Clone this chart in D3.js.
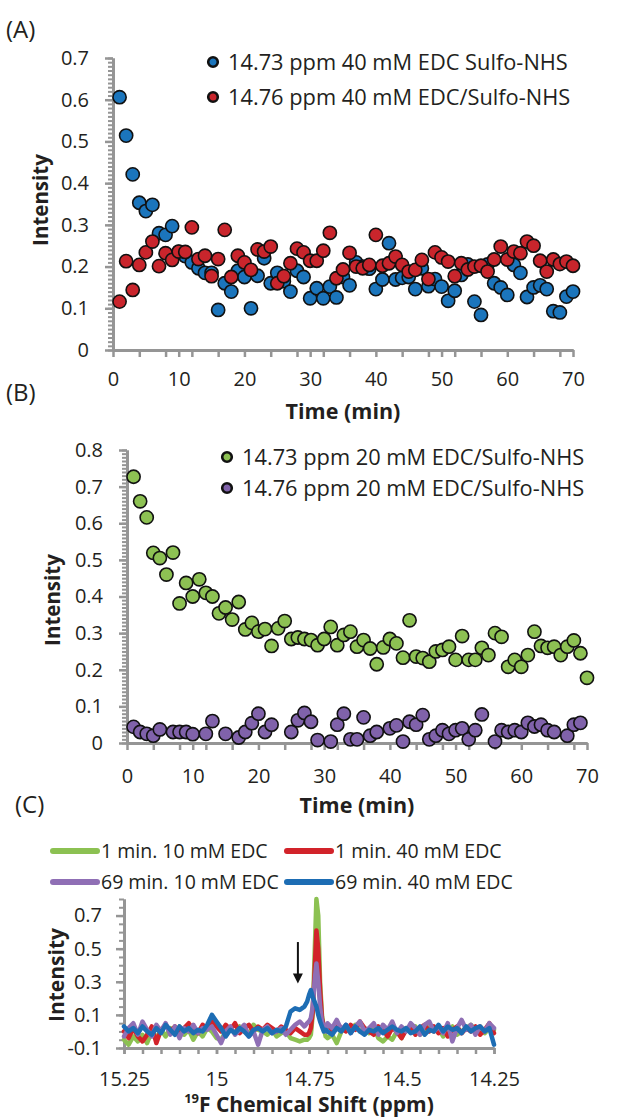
<!DOCTYPE html>
<html>
<head>
<meta charset="utf-8">
<script src="https://cdn.jsdelivr.net/npm/d3@7"></script>
<style>
body { margin: 0; background: #fff; }
text { font-family: "Open Sans", sans-serif; fill: #231f20; }
.bold { font-weight: bold; }
</style>
</head>
<body>
<svg id="chart" width="619" height="1118"></svg>
<script>
// ---- panel A data (40 mM EDC/Sulfo-NHS) ----
const timeA = [1,2,3,4,5,6,7,8,9,10,11,12,13,14,15,16,17,18,19,20,21,22,23,24,25,26,27,28,29,30,31,32,33,34,35,36,37,38,39,40,41,42,43,44,45,46,47,48,49,50,51,52,53,54,55,56,57,58,59,60,61,62,63,64,65,66,67,68,69,70];
const blueA = [0.606,0.514,0.421,0.353,0.333,0.348,0.28,0.276,0.297,0.235,0.225,0.21,0.196,0.185,0.185,0.096,0.16,0.14,0.19,0.175,
  0.1,0.178,0.22,0.16,0.185,0.165,0.14,0.19,0.175,0.124,0.148,0.124,0.152,0.126,0.175,0.155,0.21,0.2,0.195,0.146,
  0.169,0.256,0.169,0.173,0.175,0.146,0.196,0.153,0.17,0.152,0.118,0.142,0.18,0.205,0.116,0.084,0.205,0.16,0.15,0.132,
  0.204,0.185,0.127,0.15,0.155,0.146,0.093,0.09,0.128,0.14];
const redA = [0.116,0.213,0.144,0.204,0.234,0.26,0.201,0.232,0.216,0.236,0.235,0.294,0.218,0.226,0.177,0.218,0.288,0.175,0.226,0.21,
  0.192,0.241,0.236,0.248,0.16,0.177,0.208,0.243,0.234,0.214,0.214,0.238,0.281,0.172,0.193,0.233,0.2,0.196,0.204,0.276,
  0.202,0.208,0.224,0.204,0.188,0.192,0.216,0.17,0.234,0.222,0.212,0.177,0.208,0.193,0.2,0.202,0.188,0.217,0.248,0.217,
  0.236,0.232,0.26,0.25,0.214,0.188,0.217,0.206,0.212,0.202];

// ---- panel B data (20 mM EDC/Sulfo-NHS) ----
const timeB = timeA;
const greenB = [0.727,0.66,0.616,0.519,0.505,0.46,0.52,0.381,0.437,0.40,0.447,0.41,0.40,0.354,0.37,0.337,0.385,0.31,0.328,0.304,
  0.311,0.265,0.313,0.333,0.284,0.288,0.284,0.281,0.267,0.284,0.317,0.267,0.295,0.304,0.263,0.281,0.258,0.215,0.261,0.284,
  0.272,0.233,0.335,0.236,0.232,0.222,0.25,0.254,0.263,0.227,0.292,0.227,0.227,0.26,0.24,0.30,0.29,0.208,0.227,0.208,
  0.24,0.304,0.265,0.26,0.263,0.24,0.263,0.28,0.245,0.178];
const timePurpleB = [1,2,3,4,5,7,8,9,10,12,13,15,17,18,19,20,21,22,25,26,27,28,29,31,32,33,34,35,36,37,38,40,41,42,43,44,45,46,47,48,49,50,51,52,53,54,56,57,58,59,60,61,62,63,64,65,67,68,69];
const purpleB = [0.044,0.03,0.025,0.02,0.037,0.03,0.03,0.03,0.024,0.025,0.06,0.025,0.015,0.03,0.054,0.08,0.03,0.05,0.03,0.062,
  0.082,0.058,0.008,0.004,0.05,0.08,0.01,0.01,0.07,0.02,0.03,0.04,0.048,0.004,0.058,0.05,0.076,0.01,0.02,0.035,
  0.025,0.035,0.04,0.01,0.035,0.078,0.004,0.035,0.03,0.035,0.03,0.055,0.045,0.05,0.035,0.03,0.02,0.05,0.055];

// ---- panel C data (19F spectra) ----
const ppm = [15.25,15.2375,15.225,15.2125,15.2,15.1875,15.175,15.1625,15.15,15.1375,15.125,15.1125,15.1,15.0875,15.075,15.0625,15.05,15.0375,15.025,15.0125,
  15.0,14.9875,14.975,14.9625,14.95,14.9375,14.925,14.9125,14.9,14.8875,14.875,14.8625,14.85,14.8375,14.825,14.8125,14.8,14.7875,14.775,14.7625,
  14.755,14.75,14.745,14.74,14.735,14.73,14.725,14.72,14.715,14.71,14.705,
  14.7,14.6875,14.675,14.6625,14.65,14.6375,14.625,14.6125,14.6,14.5875,14.575,14.5625,14.55,14.5375,14.525,14.5125,14.5,14.4875,14.475,
  14.4625,14.45,14.4375,14.425,14.4125,14.4,14.3875,14.375,14.3625,14.35,14.3375,14.325,14.3125,14.3,14.2875,14.275,14.2625,14.25];
const green1min10 = [-0.05,-0.08,-0.03,-0.06,-0.02,-0.07,0.0,-0.04,0.01,-0.03,0.02,-0.01,0.03,-0.02,0.01,-0.05,0.0,-0.03,0.02,0.0,
  -0.04,-0.05,0.0,0.02,-0.01,0.03,0.0,-0.02,0.04,0.01,0.0,-0.02,0.01,-0.03,-0.01,0.0,-0.04,-0.05,-0.06,-0.05,
  -0.05,-0.04,-0.02,0.1,0.45,0.8,0.7,0.3,0.1,0.02,-0.03,
  -0.04,-0.02,-0.07,0.0,0.03,0.01,0.04,0.0,0.02,-0.01,0.03,-0.04,-0.06,-0.03,-0.05,0.0,-0.04,0.02,0.0,
  0.03,-0.02,0.01,0.04,0.0,0.02,-0.03,0.01,0.03,-0.02,0.0,0.02,0.04,0.01,0.03,-0.01,0.02,0.01];
const red1min40 = [0.0,-0.04,0.02,-0.03,-0.06,-0.02,0.03,-0.07,0.01,0.04,0.0,0.03,-0.02,0.02,0.05,0.01,-0.01,0.04,0.02,0.06,
  0.03,0.0,0.04,0.01,0.05,-0.01,0.02,0.04,0.0,0.03,0.01,0.04,0.02,0.0,0.03,0.01,-0.01,0.02,0.0,-0.02,
  -0.02,-0.01,0.02,0.12,0.35,0.61,0.5,0.25,0.08,0.03,0.01,
  0.04,0.01,0.05,0.02,0.0,0.04,0.01,0.06,0.02,0.0,-0.02,0.03,0.01,-0.03,0.02,0.0,-0.04,0.01,0.03,-0.02,
  0.02,0.04,0.0,0.03,-0.01,0.02,-0.03,0.01,0.03,-0.01,0.02,0.0,0.03,-0.02,0.01,0.05,-0.01];
const purple69min10 = [-0.03,0.02,0.05,-0.02,0.06,0.01,-0.03,0.04,0.0,0.05,-0.02,0.03,-0.04,0.02,0.0,0.04,-0.01,0.02,0.01,0.03,
  -0.02,-0.07,0.0,0.03,-0.02,0.01,0.04,-0.03,0.0,-0.08,0.01,0.03,-0.01,0.0,0.02,-0.02,0.01,0.04,0.06,0.03,
  0.05,0.06,0.08,0.15,0.3,0.41,0.3,0.15,0.06,0.03,0.0,
  0.05,0.02,0.07,0.01,0.04,-0.01,0.03,0.06,0.0,0.02,0.05,-0.02,0.04,0.01,0.06,-0.01,0.03,0.0,0.05,0.02,
  -0.02,0.04,0.06,0.0,0.03,-0.01,0.05,-0.06,0.02,0.07,0.01,0.04,-0.02,0.03,0.0,0.05,0.02];
const blue69min40 = [0.03,0.0,0.02,-0.01,0.03,0.0,-0.02,0.02,-0.01,0.04,0.01,-0.02,0.03,0.0,0.02,-0.01,0.01,0.0,0.04,0.1,
  0.06,0.02,-0.03,0.01,-0.01,0.02,0.0,-0.03,0.01,0.02,0.0,0.02,-0.01,0.01,0.0,0.03,0.12,0.14,0.13,0.15,
  0.18,0.22,0.25,0.21,0.18,0.15,0.1,0.06,0.03,0.0,0.01,
  0.0,-0.02,0.02,0.0,0.04,-0.01,0.03,0.0,-0.02,0.01,0.0,0.02,-0.01,0.01,0.03,0.01,0.0,0.02,-0.01,0.0,
  0.03,-0.02,0.01,0.0,0.04,0.0,0.03,0.01,0.02,-0.01,0.03,0.0,0.02,0.03,0.0,0.02,-0.08];
const arrowPpm = 14.78, arrowFrom = 0.54, arrowTo = 0.29;

const axisGray = "#959595";
const svg = d3.select("#chart");

function styleAxis(sel, lineW) {
  sel.select(".domain").attr("stroke", axisGray).attr("stroke-width", 3);
  sel.selectAll(".tick line").attr("stroke", axisGray).attr("stroke-width", lineW);
  sel.selectAll(".tick text").style("font-size", "20px").attr("fill", "#231f20");
}

function scatterPanel(o) {
  var x = d3.scaleLinear().domain([0, 70]).range([o.left, o.right]);
  var y = d3.scaleLinear().domain([0, o.ymax]).range([o.bottom, o.top]);
  var g = svg.append("g");

  // y axis: minor ticks every 0.01, major every 0.1
  g.append("g").attr("transform", `translate(${o.left},0)`)
    .call(d3.axisLeft(y).tickValues(d3.range(0, o.ymax + 0.0001, 0.01)).tickSize(5).tickSizeOuter(0).tickFormat(""))
    .call(s => styleAxis(s, 2));
  g.append("g").attr("transform", `translate(${o.left},0)`)
    .call(d3.axisLeft(y).tickValues(d3.range(0, o.ymax + 0.0001, 0.1)).tickSize(8).tickSizeOuter(0)
      .tickPadding(16).tickFormat(d => d === 0 ? "0" : d3.format(".1f")(d)))
    .call(s => styleAxis(s, 2.5));

  // x axis
  g.append("g").attr("transform", `translate(0,${o.bottom})`)
    .call(d3.axisBottom(x).tickValues([4,8,12,16,24,28,32,36,44,48,52,56,64,68]).tickSize(7).tickSizeOuter(0).tickFormat(""))
    .call(s => styleAxis(s, 2.5));
  g.append("g").attr("transform", `translate(0,${o.bottom})`)
    .call(d3.axisBottom(x).tickValues([0,10,20,30,40,50,60,70]).tickSize(7).tickSizeOuter(0).tickPadding(o.xPad))
    .call(s => styleAxis(s, 2.5));

  // points
  o.series.forEach(function(s) {
    g.append("g").selectAll("circle")
      .data(s.t.map((t, i) => [t, s.v[i]]))
      .enter().append("circle")
      .attr("cx", d => x(d[0]))
      .attr("cy", d => y(d[1]))
      .attr("r", 6.6)
      .attr("fill", s.color)
      .attr("stroke", "#111")
      .attr("stroke-width", 1.6);
  });

  // legend
  var leg = g.append("g").attr("transform", `translate(${o.legX},${o.legY})`);
  o.series.forEach(function(s, i) {
    leg.append("circle").attr("cx", 0).attr("cy", i * o.legStep).attr("r", 4.8)
      .attr("fill", s.color).attr("stroke", "#111").attr("stroke-width", 2.6);
    leg.append("text").attr("x", 15).attr("y", i * o.legStep).attr("dy", "0.35em")
      .style("font-size", "21.8px").text(s.name);
  });

  g.append("text").attr("class", "bold")
    .attr("x", (o.left + o.right) / 2).attr("y", o.titleY)
    .attr("text-anchor", "middle").style("font-size", "21.5px").text("Time (min)");
  g.append("text").attr("class", "bold")
    .attr("transform", `translate(${o.yLabelX},${o.yLabelY}) rotate(-90)`)
    .attr("text-anchor", "middle").style("font-size", "20.5px").text("Intensity");
  g.append("text").attr("x", o.tagX).attr("y", o.tagY).style("font-size", "24px").text(o.tag);
}

scatterPanel({
  left: 113, right: 573, top: 58, bottom: 350, ymax: 0.7, xPad: 15,
  legX: 213, legY: 62, legStep: 35,
  titleY: 419, yLabelX: 48, yLabelY: 200,
  tag: "(A)", tagX: 6, tagY: 38,
  series: [
    { name: "14.73 ppm 40 mM EDC Sulfo-NHS", t: timeA, v: blueA, color: "#1b75bc" },
    { name: "14.76 ppm 40 mM EDC/Sulfo-NHS", t: timeA, v: redA, color: "#c9252c" }
  ]
});

scatterPanel({
  left: 127, right: 587, top: 450, bottom: 743, ymax: 0.8, xPad: 19,
  legX: 227, legY: 457, legStep: 31,
  titleY: 813, yLabelX: 60, yLabelY: 600,
  tag: "(B)", tagX: 6, tagY: 401,
  series: [
    { name: "14.73 ppm 20 mM EDC/Sulfo-NHS", t: timeB, v: greenB, color: "#8dc153" },
    { name: "14.76 ppm 20 mM EDC/Sulfo-NHS", t: timePurpleB, v: purpleB, color: "#8062aa" }
  ]
});

// ---- panel C ----
(function() {
  var x = d3.scaleLinear().domain([15.25, 14.25]).range([124, 494]);
  var y = d3.scaleLinear().domain([-0.1, 0.8]).range([1048, 899]);
  var g = svg.append("g");
  var spectra = [
    { name: "1 min. 10 mM EDC", v: green1min10, color: "#8cc152" },
    { name: "1 min. 40 mM EDC", v: red1min40, color: "#d2232a" },
    { name: "69 min. 10 mM EDC", v: purple69min10, color: "#8f6fb5" },
    { name: "69 min. 40 mM EDC", v: blue69min40, color: "#1d6db4" }
  ];

  g.append("g").attr("transform", "translate(124,0)")
    .call(d3.axisLeft(y).tickValues(d3.range(-0.1, 0.8001, 0.05)).tickSize(5).tickSizeOuter(0).tickFormat(""))
    .call(s => styleAxis(s, 2));
  g.append("g").attr("transform", "translate(124,0)")
    .call(d3.axisLeft(y).tickValues([-0.1, 0.1, 0.3, 0.5, 0.7]).tickSize(8).tickSizeOuter(0).tickPadding(14)
      .tickFormat(d => d3.format(".1f")(d).replace("−", "-")))
    .call(s => styleAxis(s, 2.5));
  g.append("g").attr("transform", "translate(0,1048)")
    .call(d3.axisBottom(x).tickValues(d3.range(15.25, 14.2499, -0.05)).tickSize(6).tickSizeOuter(0).tickFormat(""))
    .call(s => styleAxis(s, 2.5));
  g.append("g").attr("transform", "translate(0,1048)")
    .call(d3.axisBottom(x).tickValues([15.25, 15, 14.75, 14.5, 14.25]).tickSize(6).tickSizeOuter(0).tickPadding(18)
      .tickFormat(d3.format("~g")))
    .call(s => styleAxis(s, 2.5));

  var line = d3.line().x((d, i) => x(ppm[i])).y(d => y(d));
  spectra.forEach(function(s) {
    g.append("path").attr("d", line(s.v)).attr("fill", "none")
      .attr("stroke", s.color).attr("stroke-width", 4.5)
      .attr("stroke-linejoin", "round").attr("stroke-linecap", "round");
  });

  // arrow
  g.append("line").attr("x1", x(arrowPpm)).attr("x2", x(arrowPpm))
    .attr("y1", y(arrowFrom)).attr("y2", y(arrowTo) - 8)
    .attr("stroke", "#111").attr("stroke-width", 2);
  g.append("path")
    .attr("d", `M${x(arrowPpm) - 5},${y(arrowTo) - 10} L${x(arrowPpm) + 5},${y(arrowTo) - 10} L${x(arrowPpm)},${y(arrowTo)} Z`)
    .attr("fill", "#111");

  // legend
  var legPos = [[53, 851], [287, 851], [53, 882], [287, 882]];
  spectra.forEach(function(s, i) {
    var p = legPos[i];
    g.append("line").attr("x1", p[0]).attr("x2", p[0] + 44).attr("y1", p[1]).attr("y2", p[1])
      .attr("stroke", s.color).attr("stroke-width", 6).attr("stroke-linecap", "round");
    g.append("text").attr("x", p[0] + 48).attr("y", p[1]).attr("dy", "0.35em")
      .style("font-size", "19.5px").text(s.name);
  });

  g.append("text").attr("class", "bold")
    .attr("transform", "translate(64,975) rotate(-90)")
    .attr("text-anchor", "middle").style("font-size", "21px").text("Intensity");
  var xl = g.append("text").attr("class", "bold").attr("x", 309).attr("y", 1112)
    .attr("text-anchor", "middle").style("font-size", "21px");
  xl.append("tspan").attr("baseline-shift", "super").style("font-size", "13px").text("19");
  xl.append("tspan").text("F Chemical Shift (ppm)");
  g.append("text").attr("x", 15).attr("y", 813).style("font-size", "24px").text("(C)");
})();
</script>
</body>
</html>
